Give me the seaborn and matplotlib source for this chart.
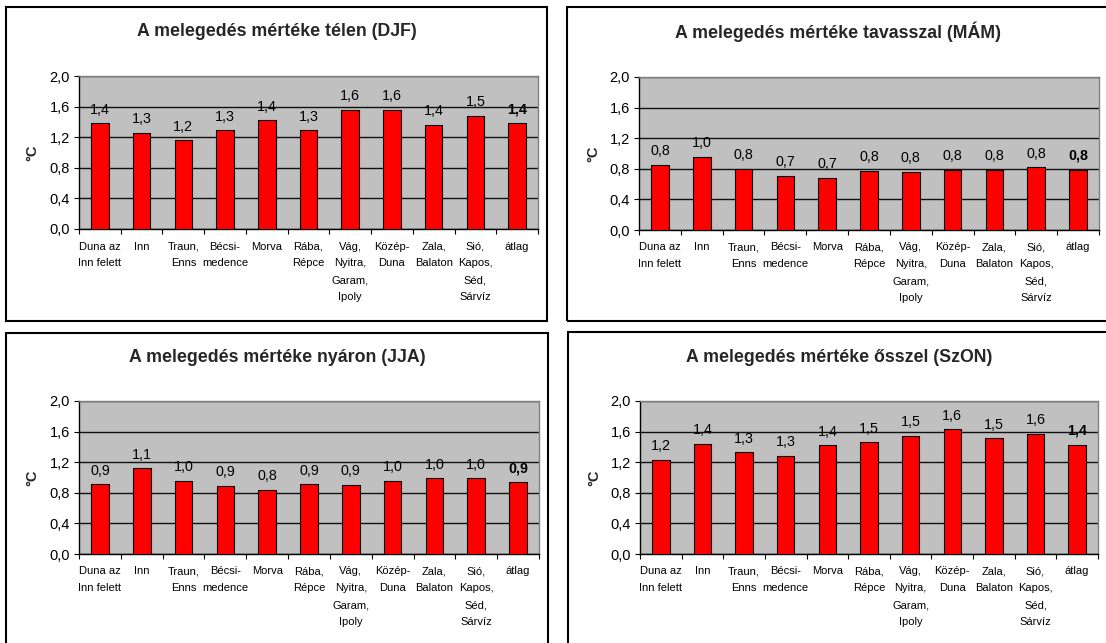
import numpy as np
import pandas as pd
import matplotlib
matplotlib.use("Agg")
import matplotlib.pyplot as plt
from matplotlib.patches import Rectangle
from matplotlib.ticker import FuncFormatter, FixedLocator
import seaborn as sns

# Regions (river basins) and the basin average
categories = [
    "Duna az\nInn felett", "Inn", "Traun,\nEnns", "Bécsi-\nmedence", "Morva",
    "Rába,\nRépce", "Vág,\nNyitra,\nGaram,\nIpoly", "Közép-\nDuna",
    "Zala,\nBalaton", "Sió,\nKapos,\nSéd,\nSárvíz", "átlag",
]

# Warming (°C) per season
winter_djf = [1.38, 1.26, 1.16, 1.29, 1.42, 1.29, 1.56, 1.56, 1.36, 1.48, 1.38]
spring_mam = [0.85, 0.96, 0.80, 0.71, 0.68, 0.77, 0.76, 0.79, 0.79, 0.82, 0.79]
summer_jja = [0.91, 1.12, 0.96, 0.89, 0.84, 0.91, 0.90, 0.96, 0.99, 0.99, 0.94]
autumn_son = [1.23, 1.44, 1.33, 1.28, 1.42, 1.46, 1.54, 1.63, 1.51, 1.57, 1.43]

titles = [
    "A melegedés mértéke télen (DJF)",
    "A melegedés mértéke tavasszal (MÁM)",
    "A melegedés mértéke nyáron (JJA)",
    "A melegedés mértéke ősszel (SzON)",
]
y_ticks = [0.0, 0.4, 0.8, 1.2, 1.6, 2.0]

sns.set_style("white")
plt.rcParams["font.family"] = ["Liberation Sans", "DejaVu Sans"]

W, H = 1106, 643
fig = plt.figure(figsize=(W / 100, H / 100), dpi=100)
fig.patch.set_facecolor("white")


def fx(px):
    return px / W


def fy(py):
    return 1 - py / H


# panel layout in pixels: frame (x0, y0, x1, y1), plot area (x0, y0, x1, y1)
panels = [
    ((6, 7, 547, 321), (79, 76, 538, 229)),
    ((567, 7, 1108, 321), (639, 77, 1099, 230)),
    ((6, 333, 548, 700), (79, 401, 539, 554)),
    ((568, 332, 1110, 700), (640, 401, 1098, 554)),
]
series = [winter_djf, spring_mam, summer_jja, autumn_son]


def fmt(v):
    return f"{v:.1f}".replace(".", ",")


for (frame, area), vals, title in zip(panels, series, titles):
    fx0, fy0, fx1, fy1 = frame
    fig.patches.append(Rectangle((fx(fx0), fy(fy1)), fx(fx1 - fx0), (fy1 - fy0) / H,
                                 transform=fig.transFigure, fill=False,
                                 edgecolor="black", linewidth=1.5, zorder=0))
    fig.text(fx((fx0 + fx1) / 2), fy(fy0 + 25), title, ha="center", va="center",
             fontsize=12.8, fontweight="bold")

    ax0, ay0, ax1, ay1 = area
    ax = fig.add_axes([fx(ax0), fy(ay1), fx(ax1 - ax0), (ay1 - ay0) / H])
    df = pd.DataFrame({"region": categories, "value": vals})
    sns.barplot(data=df, x="region", y="value", ax=ax, color="#FF0000",
                saturation=1, width=0.42, edgecolor="black", linewidth=0.8,
                zorder=3)
    ax.set_facecolor("#C0C0C0")
    ax.set_xlim(-0.5, len(categories) - 0.5)
    ax.set_ylim(0, 2.0)
    ax.set_yticks(y_ticks)
    ax.yaxis.set_major_formatter(FuncFormatter(lambda v, p: fmt(v)))
    ax.grid(axis="y", color="#111111", linewidth=1.0, zorder=1)
    ax.grid(axis="x", visible=False)
    ax.set_axisbelow(True)

    ax.xaxis.set_minor_locator(FixedLocator(np.arange(-0.5, len(categories), 1.0)))
    ax.tick_params(axis="x", which="major", length=0, pad=9, labelsize=8,
                   colors="black")
    ax.tick_params(axis="x", which="minor", length=3.5, width=0.8,
                   direction="out", color="black", bottom=True)
    ax.tick_params(axis="y", which="major", length=3.5, width=0.8,
                   direction="out", left=True, pad=3, labelsize=10.5,
                   colors="black")
    for lab in ax.get_xticklabels():
        lab.set_linespacing(1.85)
        lab.set_multialignment("center")

    for side in ("top", "right"):
        ax.spines[side].set_color("#808080")
        ax.spines[side].set_linewidth(1.0)
    for side in ("left", "bottom"):
        ax.spines[side].set_color("black")
        ax.spines[side].set_linewidth(1.0)

    ax.set_xlabel("")
    ax.set_ylabel("°C", fontsize=10.5, fontweight="bold")
    ax.yaxis.label.set_va("center")
    ax.yaxis.set_label_coords(-(ax0 - (fx0 + 26)) / (ax1 - ax0), 0.5)

    for i, v in enumerate(vals):
        ax.annotate(fmt(v), (i, v), xytext=(0, 7), textcoords="offset points",
                    ha="center", va="baseline", fontsize=10.3, color="black",
                    fontweight="bold" if i == len(vals) - 1 else "normal",
                    zorder=4)

fig.savefig("out.png", dpi=100)
